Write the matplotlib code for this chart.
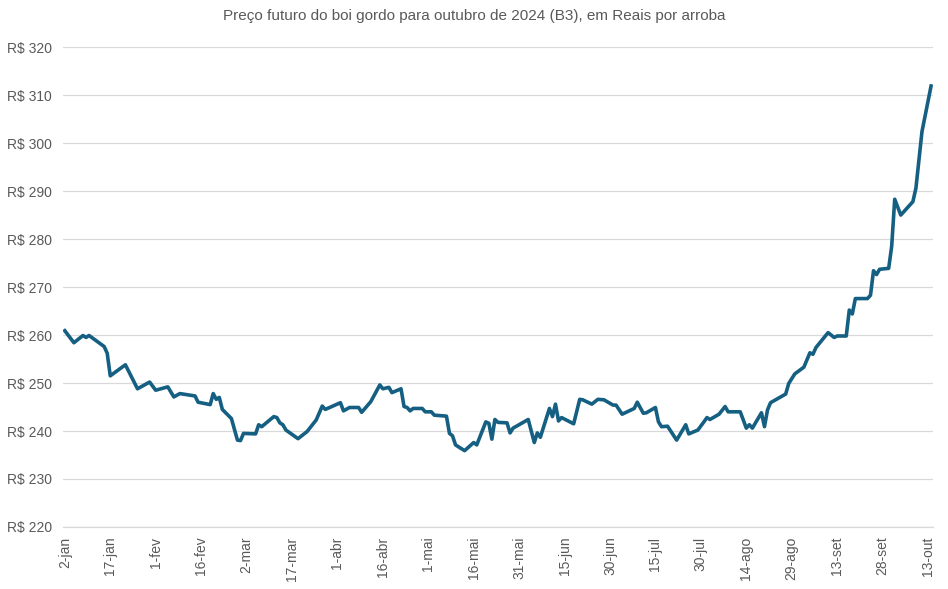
import numpy as np
import pandas as pd
import matplotlib
matplotlib.use('Agg')
import matplotlib.pyplot as plt
import matplotlib.dates as mdates

# dates and prices (R$ per arroba)
dates = ['2024-01-02', '2024-01-05', '2024-01-08', '2024-01-09', '2024-01-10',
         '2024-01-15', '2024-01-16', '2024-01-17', '2024-01-22', '2024-01-26',
         '2024-01-30', '2024-02-01', '2024-02-05', '2024-02-07', '2024-02-09',
         '2024-02-14', '2024-02-15', '2024-02-19', '2024-02-20', '2024-02-21',
         '2024-02-22', '2024-02-23', '2024-02-26', '2024-02-28', '2024-02-29',
         '2024-03-01', '2024-03-05', '2024-03-06', '2024-03-07', '2024-03-11',
         '2024-03-12', '2024-03-13', '2024-03-14', '2024-03-15', '2024-03-19',
         '2024-03-22', '2024-03-25', '2024-03-27', '2024-03-28', '2024-04-02',
         '2024-04-03', '2024-04-05', '2024-04-08', '2024-04-09', '2024-04-12',
         '2024-04-15', '2024-04-16', '2024-04-18', '2024-04-19', '2024-04-22',
         '2024-04-23', '2024-04-24', '2024-04-25', '2024-04-26', '2024-04-29',
         '2024-04-30', '2024-05-02', '2024-05-03', '2024-05-07', '2024-05-08',
         '2024-05-09', '2024-05-10', '2024-05-13', '2024-05-16', '2024-05-17',
         '2024-05-20', '2024-05-21', '2024-05-22', '2024-05-23', '2024-05-24',
         '2024-05-27', '2024-05-28', '2024-05-29', '2024-06-03', '2024-06-05',
         '2024-06-06', '2024-06-07', '2024-06-10', '2024-06-11', '2024-06-12',
         '2024-06-13', '2024-06-14', '2024-06-18', '2024-06-20', '2024-06-21',
         '2024-06-24', '2024-06-26', '2024-06-28', '2024-07-01', '2024-07-02',
         '2024-07-04', '2024-07-08', '2024-07-09', '2024-07-11', '2024-07-12',
         '2024-07-15', '2024-07-16', '2024-07-17', '2024-07-19', '2024-07-22',
         '2024-07-25', '2024-07-26', '2024-07-29', '2024-07-31', '2024-08-01',
         '2024-08-02', '2024-08-05', '2024-08-07', '2024-08-08', '2024-08-12',
         '2024-08-14', '2024-08-15', '2024-08-16', '2024-08-19', '2024-08-20',
         '2024-08-21', '2024-08-22', '2024-08-27', '2024-08-28', '2024-08-30',
         '2024-09-02', '2024-09-04', '2024-09-05', '2024-09-06', '2024-09-10',
         '2024-09-12', '2024-09-13', '2024-09-16', '2024-09-17', '2024-09-18',
         '2024-09-19', '2024-09-23', '2024-09-24', '2024-09-25', '2024-09-26',
         '2024-09-27', '2024-09-30', '2024-10-01', '2024-10-02', '2024-10-04',
         '2024-10-08', '2024-10-09', '2024-10-10', '2024-10-11', '2024-10-14']
prices = [260.9, 258.4, 259.9, 259.5, 259.9,
          257.6, 256.2, 251.5, 253.8, 248.8,
          250.2, 248.5, 249.2, 247.1, 247.8,
          247.3, 246.0, 245.5, 247.8, 246.6,
          247.0, 244.5, 242.6, 238.1, 238.0,
          239.5, 239.4, 241.3, 240.9, 243.0,
          242.8, 241.7, 241.3, 240.2, 238.4,
          239.9, 242.3, 245.2, 244.5, 245.9,
          244.2, 244.9, 244.9, 243.9, 246.1,
          249.6, 248.8, 249.1, 248.0, 248.8,
          245.1, 244.9, 244.2, 244.7, 244.7,
          244.0, 244.0, 243.3, 243.1, 239.5,
          239.0, 237.1, 235.9, 237.6, 237.1,
          241.9, 241.6, 238.3, 242.4, 241.8,
          241.7, 239.6, 240.6, 242.4, 237.6,
          239.6, 238.7, 244.7, 243.0, 245.6,
          242.1, 242.8, 241.5, 246.6, 246.5,
          245.6, 246.6, 246.5, 245.4, 245.4,
          243.5, 244.7, 246.0, 243.7, 243.8,
          244.9, 241.9, 240.9, 241.0, 238.1,
          241.3, 239.4, 240.2, 241.9, 242.8,
          242.4, 243.5, 245.1, 244.0, 244.0,
          240.6, 241.3, 240.6, 243.8, 240.9,
          244.4, 245.9, 247.7, 249.9, 251.9,
          253.3, 256.3, 256.0, 257.4, 260.5,
          259.5, 259.8, 259.8, 265.2, 264.4,
          267.6, 267.6, 268.3, 273.4, 272.6,
          273.7, 273.9, 278.5, 288.3, 285.0,
          287.8, 290.6, 296.5, 302.4, 311.9]

tick_dates = ['2024-01-02', '2024-01-17', '2024-02-01', '2024-02-16', '2024-03-02',
              '2024-03-17', '2024-04-01', '2024-04-16', '2024-05-01', '2024-05-16',
              '2024-05-31', '2024-06-15', '2024-06-30', '2024-07-15', '2024-07-30',
              '2024-08-14', '2024-08-29', '2024-09-13', '2024-09-28', '2024-10-13']
tick_labels = ['2-jan', '17-jan', '1-fev', '16-fev', '2-mar', '17-mar', '1-abr',
               '16-abr', '1-mai', '16-mai', '31-mai', '15-jun', '30-jun', '15-jul',
               '30-jul', '14-ago', '29-ago', '13-set', '28-set', '13-out']
y_ticks = [220, 230, 240, 250, 260, 270, 280, 290, 300, 310, 320]

plt.rcParams['font.family'] = ['Liberation Sans', 'DejaVu Sans']
grey = '#595959'

fig = plt.figure(figsize=(9.48, 5.89), dpi=100)
ax = fig.add_axes([0.0665, 0.1053, 0.9175, 0.8147])

x = pd.to_datetime(dates)
ax.plot(x, prices, color='#156082', lw=2.6, solid_joinstyle='round', zorder=3)

ax.set_ylim(220, 320)
ax.set_yticks(y_ticks)
ax.set_yticklabels(['R$ %d' % v for v in y_ticks])
ax.grid(axis='y', color='#d9d9d9', lw=0.9)
ax.set_axisbelow(True)

x0 = pd.Timestamp('2024-01-02') - pd.Timedelta(hours=14)
x1 = pd.Timestamp('2024-10-14') + pd.Timedelta(hours=14)
ax.set_xlim(x0, x1)
ax.set_xticks(pd.to_datetime(tick_dates))
ax.set_xticklabels(tick_labels, rotation=90)

for s in ['top', 'right', 'left']:
    ax.spines[s].set_visible(False)
ax.spines['bottom'].set_color('#d9d9d9')
ax.spines['bottom'].set_linewidth(0.9)
ax.tick_params(axis='both', length=0, colors=grey, labelsize=10)
ax.tick_params(axis='x', pad=7)
ax.tick_params(axis='y', pad=8)

fig.suptitle('Preço futuro do boi gordo para outubro de 2024 (B3), em Reais por arroba',
             x=0.5, y=0.985, fontsize=11, color=grey)

fig.savefig('out.png', dpi=100)
